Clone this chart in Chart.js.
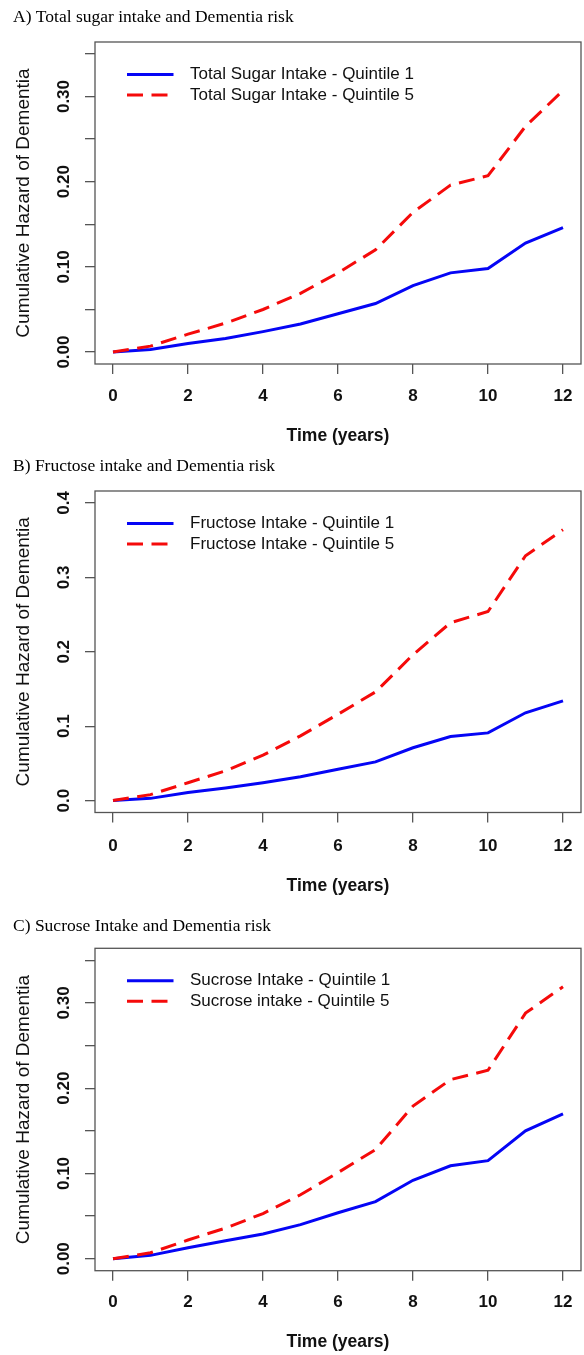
<!DOCTYPE html>
<html>
<head>
<meta charset="utf-8">
<script src="https://cdn.jsdelivr.net/npm/chart.js@4.4.1/dist/chart.umd.min.js"></script>
<style>
  html, body { margin: 0; padding: 0; background: #fff; }
  #wrap { position: relative; width: 584px; height: 1355px; overflow: hidden; }
  canvas { position: absolute; left: 0; }
</style>
</head>
<body>
<div id="wrap">
  <canvas id="cA"></canvas>
  <canvas id="cB"></canvas>
  <canvas id="cC"></canvas>
</div>
<script>
// ---------- data ----------
const years = [0, 1, 2, 3, 4, 5, 6, 7, 8, 9, 10, 11, 12];
const xTicks = [0, 2, 4, 6, 8, 10, 12];

const sugarQ1 = [0, 0.003, 0.010, 0.016, 0.024, 0.033, 0.045, 0.057, 0.078, 0.093, 0.098, 0.128, 0.146];
const sugarQ5 = [0, 0.007, 0.021, 0.034, 0.050, 0.069, 0.093, 0.120, 0.164, 0.196, 0.207, 0.265, 0.307];

const fructoseQ1 = [0, 0.003, 0.011, 0.017, 0.024, 0.032, 0.042, 0.052, 0.071, 0.086, 0.091, 0.118, 0.134];
const fructoseQ5 = [0, 0.008, 0.024, 0.040, 0.061, 0.087, 0.116, 0.146, 0.196, 0.239, 0.254, 0.329, 0.364];

const sucroseQ1 = [0, 0.004, 0.013, 0.021, 0.029, 0.040, 0.054, 0.067, 0.092, 0.109, 0.115, 0.150, 0.170];
const sucroseQ5 = [0, 0.007, 0.022, 0.036, 0.053, 0.075, 0.101, 0.128, 0.179, 0.210, 0.221, 0.288, 0.319];

const yTicksAC = [0, 0.05, 0.10, 0.15, 0.20, 0.25, 0.30, 0.35];
const yLabelsAC = ['0.00', '', '0.10', '', '0.20', '', '0.30', ''];
const yTicksB = [0, 0.1, 0.2, 0.3, 0.4];
const yLabelsB = ['0.0', '0.1', '0.2', '0.3', '0.4'];

const titleA = 'A) Total sugar intake and Dementia risk';
const titleB = 'B) Fructose intake and Dementia risk';
const titleC = 'C) Sucrose Intake and Dementia risk';
const legendA = ['Total Sugar Intake - Quintile 1', 'Total Sugar Intake - Quintile 5'];
const legendB = ['Fructose Intake - Quintile 1', 'Fructose Intake - Quintile 5'];
const legendC = ['Sucrose Intake - Quintile 1', 'Sucrose intake - Quintile 5'];
const xTitle = 'Time (years)';
const yTitle = 'Cumulative Hazard of Dementia';

// ---------- styling / layout ----------
const SANS = '"Liberation Sans", Arial, Helvetica, sans-serif';
const SERIF = '"Liberation Serif", "Times New Roman", serif';
const TICK_FONT = { family: SANS, size: 17, weight: 'bold', lineHeight: 1.2 };
const XTITLE_FONT = { family: SANS, size: 17.5, weight: 'bold', lineHeight: 1.2 };
const YTITLE_FONT = { family: SANS, size: 19, weight: 'normal', lineHeight: 1.1 };
const PTITLE_FONT = { family: SERIF, size: 17.5, weight: 'normal', lineHeight: 1.2 };
const LEGEND_FONT_CSS = '17px ' + SANS;
const AXIS_COLOR = '#555';
const TEXT_COLOR = '#111';
const BLUE = '#0505f5';
const RED = '#f50a0a';
const DASH = [16, 8.5];

const PLOT_LEFT = 95, PLOT_RIGHT = 581, PAD_LEFT = 13, TICK_LEN = 10;
const YLABEL_CENTER_X = 64;

function mkTicks(vals) { return vals.map(v => ({ value: v })); }

const boxPlugin = {
  id: 'box',
  afterDraw(chart) {
    const a = chart.chartArea, ctx = chart.ctx;
    ctx.save();
    ctx.strokeStyle = AXIS_COLOR;
    ctx.lineWidth = 1.3;
    ctx.strokeRect(a.left, a.top, a.right - a.left, a.bottom - a.top);
    ctx.restore();
  }
};

const legendPlugin = {
  id: 'insideLegend',
  afterDraw(chart) {
    const a = chart.chartArea, ctx = chart.ctx;
    const ds = chart.data.datasets;
    const rowsY = [a.top + 32.5, a.top + 53];
    ctx.save();
    [0, 1].forEach((di, r) => {
      const d = ds[di];
      const y = rowsY[r];
      ctx.beginPath();
      ctx.strokeStyle = d.borderColor;
      ctx.lineWidth = d.borderWidth;
      ctx.setLineDash(d.borderDash || []);
      ctx.moveTo(a.left + 32, y);
      ctx.lineTo(a.left + 78.5, y);
      ctx.stroke();
      ctx.setLineDash([]);
      ctx.fillStyle = TEXT_COLOR;
      ctx.font = LEGEND_FONT_CSS;
      ctx.textBaseline = 'middle';
      ctx.textAlign = 'left';
      ctx.fillText(d.label, a.left + 95, y);
    });
    ctx.restore();
  }
};

function measure(text, font) {
  const c = document.createElement('canvas').getContext('2d');
  c.font = (font.weight || 'normal') + ' ' + font.size + 'px ' + font.family;
  return c.measureText(text).width;
}

function makePanel(id, L, title, legend, q1, q5, yTicks, yLabels, yMin, yMax) {
  const cv = document.getElementById(id);
  cv.width = 584; cv.height = L.H;
  cv.style.top = L.top + 'px';
  cv.style.width = '584px'; cv.style.height = L.H + 'px';

  const ptLH = PTITLE_FONT.size * PTITLE_FONT.lineHeight;
  const titlePadTop = L.titleMid - ptLH / 2;
  const titlePadBottom = L.plotTop - titlePadTop - ptLH;
  const tickLH = TICK_FONT.size * TICK_FONT.lineHeight;
  const xTickPad = L.tickMid - L.plotBottom - TICK_LEN - tickLH / 2;
  const xtLH = XTITLE_FONT.size * XTITLE_FONT.lineHeight;
  const xAxisH = L.xTitleMid + xtLH / 2 - L.plotBottom;
  const padBottom = L.H - L.plotBottom - xAxisH;
  const widest = Math.max(...yLabels.map(s => measure(s, TICK_FONT)));
  const yTickPad = PLOT_LEFT - TICK_LEN - YLABEL_CENTER_X - widest / 2;

  return new Chart(cv, {
    type: 'line',
    data: {
      datasets: [
        {
          label: legend[0],
          data: years.map((t, i) => ({ x: t, y: q1[i] })),
          borderColor: BLUE, borderWidth: 3, pointRadius: 0, tension: 0, fill: false, order: 1
        },
        {
          label: legend[1],
          data: years.map((t, i) => ({ x: t, y: q5[i] })),
          borderColor: RED, borderWidth: 3, borderDash: DASH, pointRadius: 0, tension: 0, fill: false, order: 0
        }
      ]
    },
    options: {
      responsive: false,
      animation: false,
      devicePixelRatio: 1,
      events: [],
      layout: { padding: { left: PAD_LEFT, right: 584 - PLOT_RIGHT, top: 0, bottom: padBottom } },
      plugins: {
        legend: { display: false },
        tooltip: { enabled: false },
        title: {
          display: true, text: title, align: 'start', color: '#000',
          font: PTITLE_FONT, padding: { top: titlePadTop, bottom: titlePadBottom }
        }
      },
      scales: {
        x: {
          type: 'linear', min: -0.48, max: 12.48,
          afterBuildTicks: s => { s.ticks = mkTicks(xTicks); },
          afterFit: s => { s.height = xAxisH; s.paddingLeft = 0; s.paddingRight = 0; },
          ticks: {
            autoSkip: false, maxRotation: 0, minRotation: 0, padding: xTickPad,
            color: TEXT_COLOR, font: TICK_FONT, callback: v => String(v)
          },
          grid: { drawOnChartArea: false, drawTicks: true, tickLength: TICK_LEN, color: AXIS_COLOR, lineWidth: 1.3 },
          border: { display: false },
          title: { display: true, text: xTitle, color: TEXT_COLOR, font: XTITLE_FONT, padding: { top: 0, bottom: 0 } }
        },
        y: {
          type: 'linear', min: yMin, max: yMax,
          afterBuildTicks: s => { s.ticks = mkTicks(yTicks); },
          afterFit: s => { s.width = PLOT_LEFT - PAD_LEFT; s.paddingTop = 0; s.paddingBottom = 0; },
          ticks: {
            autoSkip: false, minRotation: 90, maxRotation: 90, crossAlign: 'center', padding: yTickPad,
            color: TEXT_COLOR, font: TICK_FONT, callback: (v, i) => yLabels[i]
          },
          grid: { drawOnChartArea: false, drawTicks: true, tickLength: TICK_LEN, color: AXIS_COLOR, lineWidth: 1.3 },
          border: { display: false },
          title: { display: true, text: yTitle, color: TEXT_COLOR, font: YTITLE_FONT, padding: { top: 0, bottom: 0 } }
        }
      }
    },
    plugins: [boxPlugin, legendPlugin]
  });
}

makePanel('cA', { top: 0, H: 452, titleMid: 17.6, plotTop: 42, plotBottom: 364, tickMid: 396, xTitleMid: 436 },
  titleA, legendA, sugarQ1, sugarQ5, yTicksAC, yLabelsAC, -0.014, 0.364);
makePanel('cB', { top: 452, H: 454, titleMid: 14.3, plotTop: 39, plotBottom: 360.5, tickMid: 394, xTitleMid: 434 },
  titleB, legendB, fructoseQ1, fructoseQ5, yTicksB, yLabelsB, -0.016, 0.416);
makePanel('cC', { top: 906, H: 449, titleMid: 20.3, plotTop: 42.3, plotBottom: 364.7, tickMid: 396.7, xTitleMid: 436 },
  titleC, legendC, sucroseQ1, sucroseQ5, yTicksAC, yLabelsAC, -0.014, 0.364);
</script>
</body>
</html>
